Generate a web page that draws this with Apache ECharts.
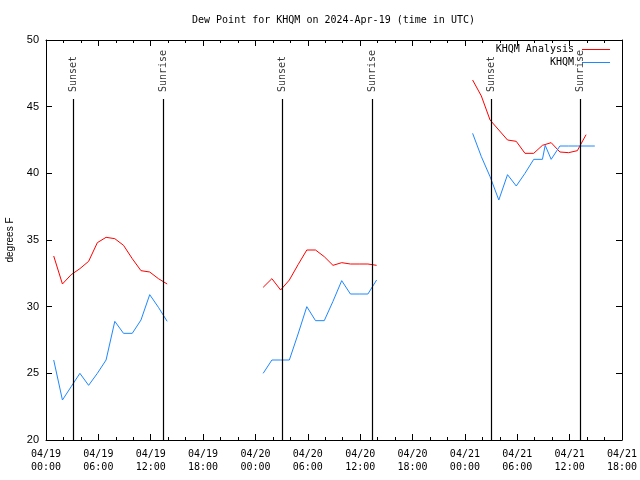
<!DOCTYPE html>
<html>
<head>
<meta charset="utf-8">
<script src="https://cdn.jsdelivr.net/npm/echarts@6/dist/echarts.min.js"></script>
<style>html,body{margin:0;padding:0;background:#fff;}#c{width:640px;height:480px;}</style>
</head>
<body>
<div id="c"></div>
<script>
// ---- data ----
const chartTitle = "Dew Point for KHQM on 2024-Apr-19 (time in UTC)";
const days = ["2024-04-19", "2024-04-20", "2024-04-21"];
const obsTimes = ["00:53","01:53","02:53","03:53","04:53","05:53","06:53","07:53","08:53","09:53","10:53","11:53","12:53","13:53"];
const analysisDay1 = [33.8, 31.7, 32.4, 32.85, 33.4, 34.8, 35.2, 35.1, 34.6, 33.6, 32.7, 32.6, 32.1, 31.7];
const analysisDay2 = [31.45, 32.1, 31.25, 32.0, 33.15, 34.25, 34.25, 33.75, 33.1, 33.3, 33.2, 33.2, 33.2, 33.1];
const analysisDay3 = [47.0, 45.8, 44.0, 43.25, 42.5, 42.4, 41.5, 41.5, 42.1, 42.3, 41.6, 41.55, 41.7, 42.9];
const khqmDay1 = [26.0, 23.0, 24.0, 25.0, 24.1, 25.0, 26.0, 28.9, 28.0, 28.0, 29.0, 30.9, 29.95, 28.9];
const khqmDay2 = [25.0, 26.0, 26.0, 26.0, 27.95, 30.0, 28.95, 28.95, 30.4, 31.95, 30.95, 30.95, 30.95, 32.0];
const khqmDay3Times = ["00:53","01:53","02:53","03:53","04:53","05:53","06:53","07:53","08:53","09:12","09:53","10:53","11:53","12:53","13:53","14:53"];
const khqmDay3 = [43.0, 41.25, 39.75, 38.0, 39.9, 39.05, 40.0, 41.05, 41.05, 42.1, 41.05, 42.05, 42.05, 42.05, 42.05, 42.05];
const sunNames = ["Sunset", "Sunrise", "Sunset", "Sunrise", "Sunset", "Sunrise"];
const sunTimes = ["2024-04-19T03:07Z", "2024-04-19T13:25Z", "2024-04-20T03:05Z", "2024-04-20T13:23Z", "2024-04-21T03:00Z", "2024-04-21T13:14Z"];
const yMin = 20, yMax = 50, yStep = 5;
const xStartHours = 0, xEndHours = 66, xStepHours = 6;

// ---- helpers ----
const START = Date.UTC(2024, 3, 19, 0, 0);
function hrs(s) { return (Date.parse(s) - START) / 3.6e6; }
function seg(day, times, vals) {
  return times.map((t, i) => [hrs(day + "T" + t + ":00Z"), vals[i]]);
}
function joinSegs(segs) {
  const out = [];
  segs.forEach((s, i) => {
    if (i > 0) out.push([s[0][0] - 1, '-']);
    s.forEach(p => out.push(p));
  });
  return out;
}
const analysisData = joinSegs([
  seg(days[0], obsTimes, analysisDay1),
  seg(days[1], obsTimes, analysisDay2),
  seg(days[2], obsTimes, analysisDay3)
]);
const khqmData = joinSegs([
  seg(days[0], obsTimes, khqmDay1),
  seg(days[1], obsTimes, khqmDay2),
  seg(days[2], khqmDay3Times, khqmDay3)
]);
const sunHours = sunTimes.map(hrs);
const lineTop = 45.575, labelBase = 46.1;

function fmtX(v) {
  const d = Math.floor(v / 24), h = Math.round(v - d * 24);
  const dd = String(19 + d).padStart(2, '0');
  return "04/" + dd + "\n" + String(h).padStart(2, '0') + ":00";
}

const MONO = "DejaVu Sans Mono";
const SANS = "Liberation Sans";

const xCommon = {
  type: 'value', min: xStartHours, max: xEndHours, interval: xStepHours,
  axisLine: { show: true, onZero: false, lineStyle: { color: '#000', width: 1 } },
  axisTick: { show: true, inside: true, length: 6, lineStyle: { color: '#000' } },
  minorTick: { show: true, splitNumber: 3, length: 3, lineStyle: { color: '#000' } },
  splitLine: { show: false }
};
const yCommon = {
  type: 'value', min: yMin, max: yMax, interval: yStep,
  axisLine: { show: true, onZero: false, lineStyle: { color: '#000', width: 1 } },
  axisTick: { show: true, inside: true, length: 6, lineStyle: { color: '#000' } },
  splitLine: { show: false }
};

const chart = echarts.init(document.getElementById('c'), null, { renderer: 'canvas' });
chart.setOption({
  backgroundColor: '#fff',
  animation: false,
  title: {
    text: chartTitle, left: 192, top: 15, padding: 0,
    textStyle: { fontFamily: MONO, fontSize: 10, fontWeight: 'normal', color: '#000' }
  },
  legend: {
    orient: 'vertical', right: 30, top: 43, padding: 0, align: 'right',
    icon: 'rect', itemWidth: 28, itemHeight: 1, itemGap: 0,
    textStyle: { fontFamily: MONO, fontSize: 10, lineHeight: 13, color: '#000', padding: [0, 3, 0, 0] },
    data: ['KHQM Analysis', 'KHQM']
  },
  grid: { left: 46, right: 18, top: 40, bottom: 40, containLabel: false, outerBoundsMode: 'none' },
  xAxis: [
    Object.assign({}, xCommon, {
      position: 'bottom',
      axisLabel: { show: true, margin: 8, formatter: fmtX, fontFamily: MONO, fontSize: 10, lineHeight: 13, color: '#000' }
    }),
    Object.assign({}, xCommon, { position: 'top', axisLabel: { show: false } })
  ],
  yAxis: [
    Object.assign({}, yCommon, {
      position: 'left',
      name: 'degrees F', nameLocation: 'middle', nameGap: 31, nameRotate: 90,
      nameTextStyle: { fontFamily: SANS, fontSize: 10, color: '#000' },
      axisLabel: { show: true, margin: 7, fontFamily: SANS, fontSize: 11, color: '#000' }
    }),
    Object.assign({}, yCommon, { position: 'right', axisLabel: { show: false } })
  ],
  series: [
    {
      name: 'KHQM Analysis', type: 'line', data: analysisData, symbol: 'none', showSymbol: false,
      connectNulls: false, lineStyle: { color: '#ff0000', width: 1 }, itemStyle: { color: '#ff0000' }, z: 3
    },
    {
      name: 'KHQM', type: 'line', data: khqmData, symbol: 'none', showSymbol: false,
      connectNulls: false, lineStyle: { color: '#1e88ff', width: 1 }, itemStyle: { color: '#1e88ff' }, z: 3
    },
    {
      name: 'sun', type: 'scatter', symbol: 'circle', symbolSize: 1, silent: true, z: 4,
      itemStyle: { color: 'rgba(0,0,0,0)' },
      data: sunHours.map((h, i) => ({ value: [h, labelBase], name: sunNames[i] })),
      label: {
        show: true, position: 'inside', rotate: 90, align: 'left', verticalAlign: 'middle',
        formatter: p => p.name, fontFamily: MONO, fontSize: 10, color: '#000'
      },
      markLine: {
        silent: true, symbol: 'none', animation: false,
        label: { show: false },
        lineStyle: { color: '#000', width: 1.2, type: 'solid' },
        data: sunHours.map(h => [{ coord: [h, yMin] }, { coord: [h, lineTop] }])
      }
    }
  ]
});
</script>
</body>
</html>
